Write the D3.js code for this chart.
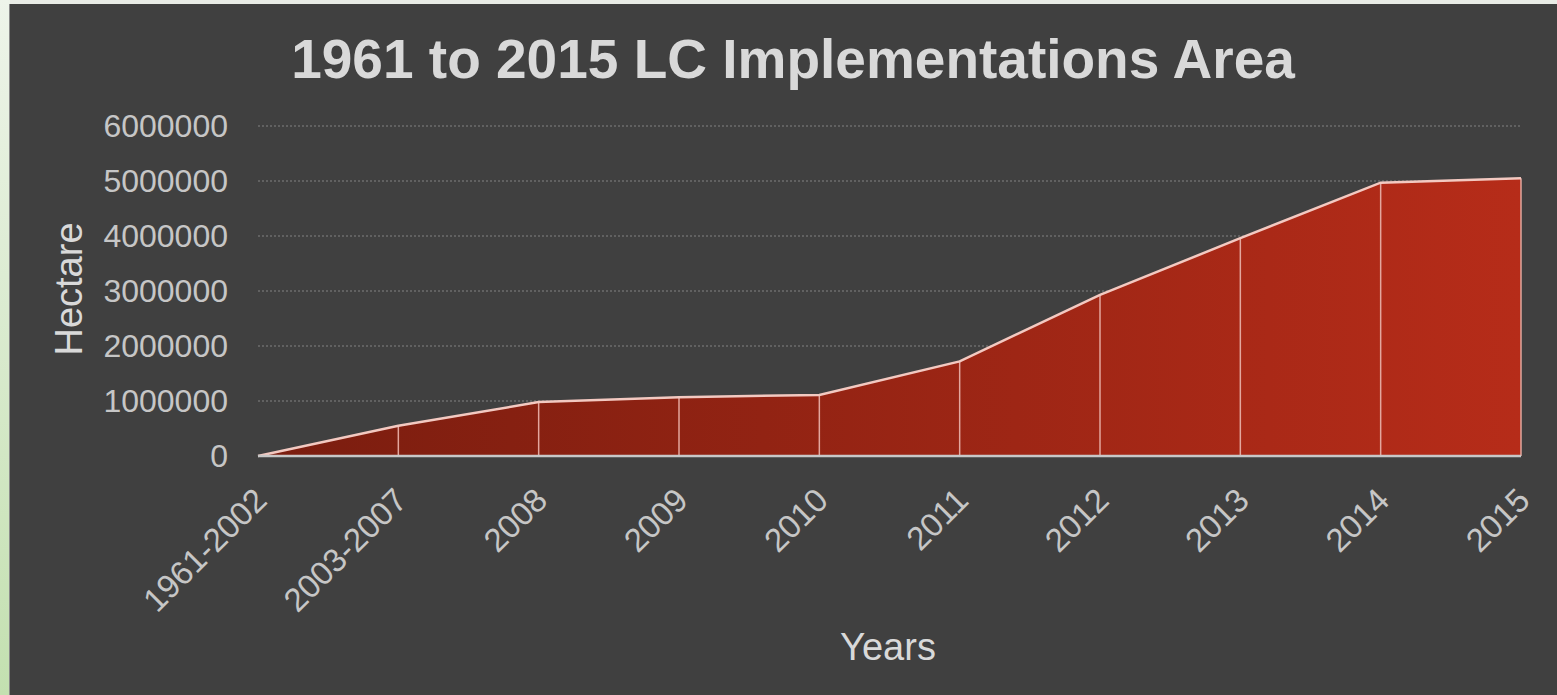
<!DOCTYPE html>
<html>
<head>
<meta charset="utf-8">
<script src="https://cdn.jsdelivr.net/npm/d3@7"></script>
<style>
  body { margin: 0; background: #fff; }
  text { font-family: "Liberation Sans", Arial, sans-serif; }
</style>
</head>
<body>
<script>
// data
var years = ["1961-2002", "2003-2007", "2008", "2009", "2010", "2011", "2012", "2013", "2014", "2015"];
var hectares = [0, 550000, 980000, 1070000, 1110000, 1720000, 2930000, 3960000, 4970000, 5050000];
var yTicks = [0, 1000000, 2000000, 3000000, 4000000, 5000000, 6000000];

var W = 1557, H = 695;
var svg = d3.select("body").append("svg")
    .attr("width", W)
    .attr("height", H);

var defs = svg.append("defs");
var side = defs.append("linearGradient").attr("id", "side")
    .attr("x1", 0).attr("y1", 0).attr("x2", 0).attr("y2", 1);
side.append("stop").attr("offset", "0%").attr("stop-color", "#eef4ea");
side.append("stop").attr("offset", "100%").attr("stop-color", "#c3e0b0");

var redFill = defs.append("linearGradient").attr("id", "redFill")
    .attr("gradientUnits", "userSpaceOnUse")
    .attr("x1", 258).attr("y1", 0).attr("x2", 1521).attr("y2", 0);
redFill.append("stop").attr("offset", "0%").attr("stop-color", "#7a1d0f");
redFill.append("stop").attr("offset", "100%").attr("stop-color", "#b62c19");

// page behind the chart
svg.append("rect").attr("width", W).attr("height", H).attr("fill", "url(#side)");
svg.append("rect").attr("x", 10).attr("y", 0).attr("width", W - 10).attr("height", 4).attr("fill", "#e9ece6");
svg.append("rect").attr("x", 9).attr("y", 4).attr("width", W - 9).attr("height", H - 4).attr("fill", "#8a8a8a");
svg.append("rect").attr("x", 10).attr("y", 4).attr("width", W - 10).attr("height", H - 4).attr("fill", "#404040");

var x = d3.scalePoint()
    .domain(years)
    .range([258, 1521]);

var y = d3.scaleLinear()
    .domain([0, 6000000])
    .range([456, 126]);

// gridlines
svg.append("g")
  .selectAll("line")
  .data(yTicks.filter(d => d > 0))
  .join("line")
    .attr("x1", 258).attr("x2", 1521)
    .attr("y1", d => y(d)).attr("y2", d => y(d))
    .attr("stroke", "#6c6c6c")
    .attr("stroke-width", 1.5)
    .attr("stroke-dasharray", "2,2");

var pts = years.map((k, i) => ({ k: k, v: hectares[i] }));

// area
svg.append("path")
    .datum(pts)
    .attr("fill", "url(#redFill)")
    .attr("d", d3.area()
        .x(d => x(d.k))
        .y0(y(0))
        .y1(d => y(d.v)));

// drop lines
svg.append("g")
  .selectAll("line")
  .data(pts.slice(1))
  .join("line")
    .attr("x1", d => x(d.k)).attr("x2", d => x(d.k))
    .attr("y1", d => y(d.v)).attr("y2", y(0))
    .attr("stroke", "#e3a79e")
    .attr("stroke-width", 1.5);

// top line
svg.append("path")
    .datum(pts)
    .attr("fill", "none")
    .attr("stroke", "#f3c9c1")
    .attr("stroke-width", 2.5)
    .attr("d", d3.line()
        .x(d => x(d.k))
        .y(d => y(d.v)));

// baseline
svg.append("line")
    .attr("x1", 258).attr("x2", 1521)
    .attr("y1", y(0)).attr("y2", y(0))
    .attr("stroke", "#c8c8c8")
    .attr("stroke-width", 2.5);

// y axis labels
var yAxis = svg.append("g")
    .attr("transform", "translate(228,0)")
    .call(d3.axisLeft(y).tickValues(yTicks).tickSize(0).tickPadding(0).tickFormat(d3.format("d")));
yAxis.select(".domain").remove();
yAxis.selectAll("text")
    .attr("fill", "#c6c6c6")
    .style("font-size", "32px");

// x axis labels
var xAxis = svg.append("g")
    .attr("transform", "translate(0," + y(0) + ")")
    .call(d3.axisBottom(x).tickSize(0).tickPadding(0));
xAxis.select(".domain").remove();
xAxis.selectAll("text")
    .attr("fill", "#c6c6c6")
    .style("font-size", "33px")
    .attr("text-anchor", "end")
    .attr("dy", "0.35em")
    .attr("transform", "translate(2,38) rotate(-45)");

// titles
svg.append("text")
    .attr("x", 793).attr("y", 78)
    .attr("text-anchor", "middle")
    .attr("fill", "#d9d9d9")
    .style("font-size", "55px")
    .style("font-weight", "bold")
    .text("1961 to 2015 LC Implementations Area");

svg.append("text")
    .attr("x", 888).attr("y", 660)
    .attr("text-anchor", "middle")
    .attr("fill", "#d9d9d9")
    .style("font-size", "38px")
    .text("Years");

svg.append("text")
    .attr("transform", "translate(82,289) rotate(-90)")
    .attr("text-anchor", "middle")
    .attr("fill", "#d9d9d9")
    .style("font-size", "38px")
    .text("Hectare");
</script>
</body>
</html>
